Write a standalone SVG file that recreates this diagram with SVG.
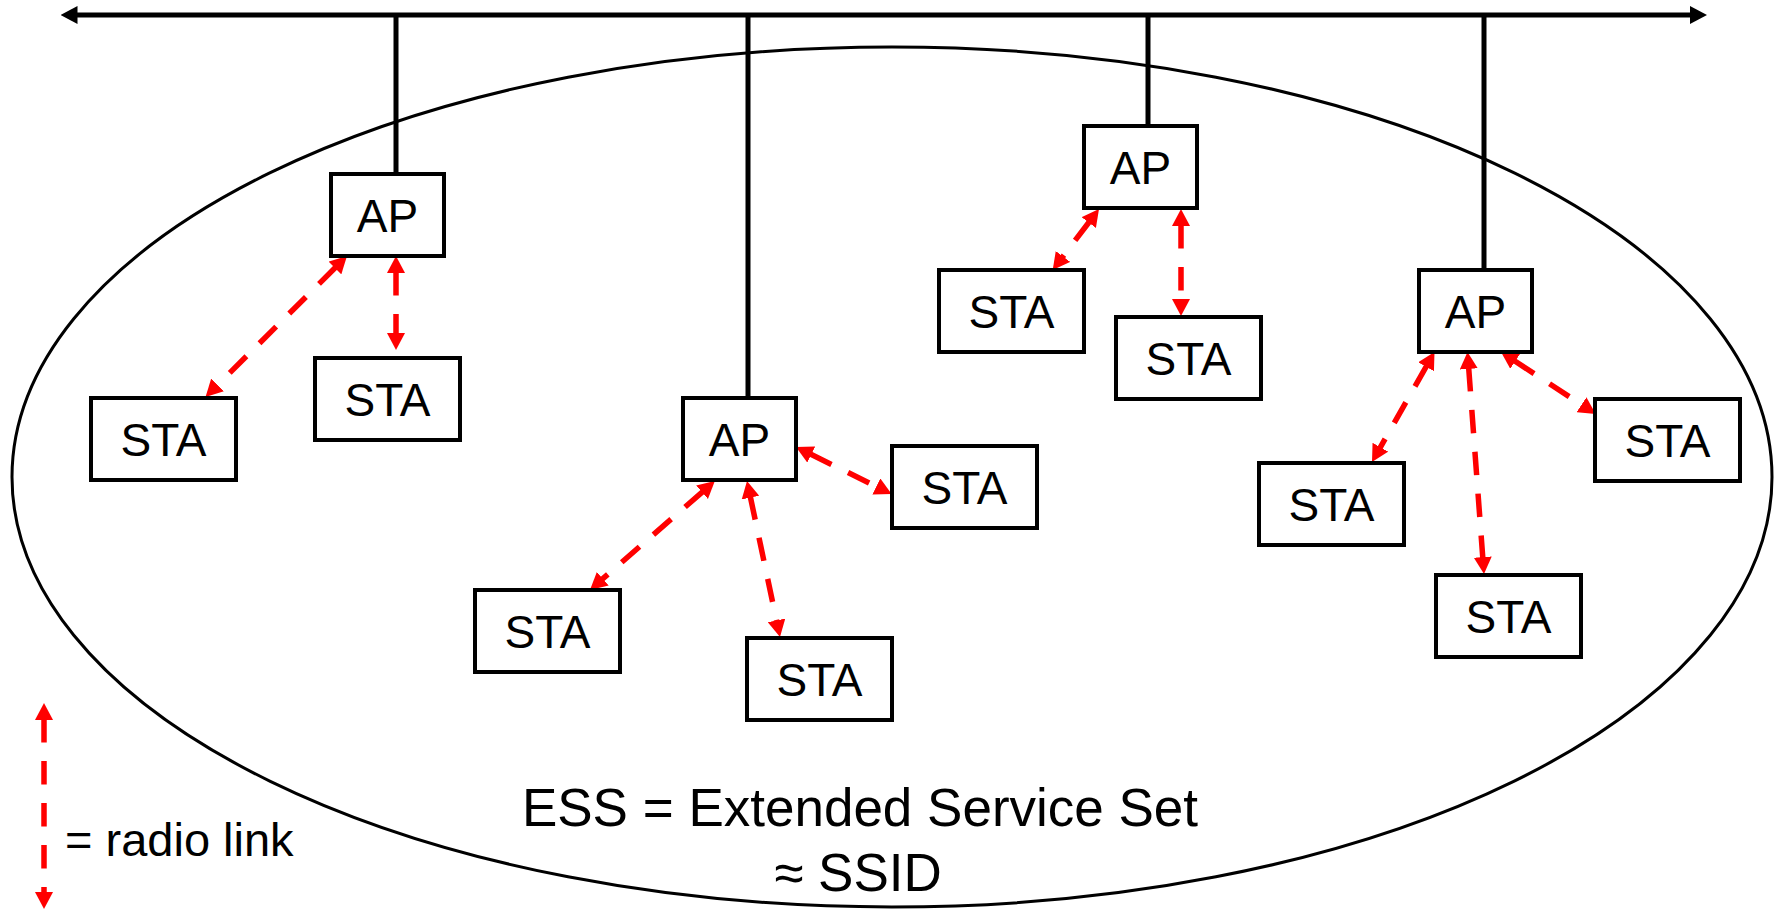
<svg xmlns="http://www.w3.org/2000/svg" width="1781" height="909" viewBox="0 0 1781 909">
  <style>
    .box { fill: #ffffff; stroke: #000000; stroke-width: 4; }
    .lbl { font-family: "Liberation Sans", Arial, sans-serif; font-size: 46px; fill: #000000; text-anchor: middle; }
    .wire { stroke: #000000; stroke-width: 5; fill: none; }
    .radio { stroke: #ff0000; stroke-width: 5.5; fill: none; stroke-dasharray: 23.5 18.5; marker-start: url(#redHead); marker-end: url(#redHead); }
    .caption { font-family: "Liberation Sans", Arial, sans-serif; fill: #000000; }
  </style>
  <defs>
    <!-- red arrowhead: the link line stops at the head's base -->
    <marker id="redHead" markerUnits="userSpaceOnUse" markerWidth="17" markerHeight="18" refX="1" refY="9" orient="auto-start-reverse" viewBox="0 0 17 18">
      <path d="M0,0 L17,9 L0,18 z" fill="#ff0000"/>
    </marker>
    <marker id="blackHead" markerUnits="userSpaceOnUse" markerWidth="17" markerHeight="18" refX="5" refY="9" orient="auto-start-reverse" viewBox="0 0 17 18">
      <path d="M0,0 L17,9 L0,18 z" fill="#000000"/>
    </marker>
  </defs>

  <rect width="1781" height="909" fill="#ffffff"/>

  <!-- extended service set boundary -->
  <ellipse id="ess-area" cx="892" cy="477" rx="880" ry="430" fill="none" stroke="#000000" stroke-width="3"/>

  <g id="connectors">
    <!-- distribution system bus and AP uplinks -->
    <line class="wire" x1="72.5" y1="15" x2="1695" y2="15" marker-start="url(#blackHead)" marker-end="url(#blackHead)"/>
    <line class="wire" x1="396" y1="15" x2="396" y2="174"/>
    <line class="wire" x1="748" y1="15" x2="748" y2="398"/>
    <line class="wire" x1="1148" y1="15" x2="1148" y2="126"/>
    <line class="wire" x1="1484" y1="15" x2="1484" y2="270"/>

    <!-- radio links -->
    <line class="radio" x1="335.66" y1="267.3" x2="216.84" y2="385.7"/>
    <line class="radio" x1="396" y1="272" x2="396" y2="334"/>
    <line class="radio" x1="1089.34" y1="221.74" x2="1062.36" y2="257.26"/>
    <line class="radio" x1="1181" y1="225" x2="1181" y2="300"/>
    <line class="radio" x1="810.36" y1="454.06" x2="877.24" y2="486.94"/>
    <line class="radio" x1="750.31" y1="496.65" x2="776.69" y2="621.35"/>
    <line class="radio" x1="702.79" y1="491.57" x2="602.01" y2="579.43"/>
    <line class="radio" x1="1426.6" y1="365.91" x2="1379.9" y2="448.09"/>
    <line class="radio" x1="1468.69" y1="367.96" x2="1482.81" y2="558.04"/>
    <line class="radio" x1="1514.39" y1="360.76" x2="1582.31" y2="405.24"/>
  </g>

  <!-- access points -->
  <g id="ap1"><rect class="box" x="331" y="174" width="113" height="82"/><text class="lbl" x="387.5" y="232">AP</text></g>
  <g id="ap2"><rect class="box" x="683" y="398" width="113" height="82"/><text class="lbl" x="739.5" y="456">AP</text></g>
  <g id="ap3"><rect class="box" x="1084" y="126" width="113" height="82"/><text class="lbl" x="1140.5" y="184">AP</text></g>
  <g id="ap4"><rect class="box" x="1419" y="270" width="113" height="82"/><text class="lbl" x="1475.5" y="328">AP</text></g>

  <!-- stations -->
  <g id="sta1"><rect class="box" x="91" y="398" width="145" height="82"/><text class="lbl" x="163.5" y="456">STA</text></g>
  <g id="sta2"><rect class="box" x="315" y="358" width="145" height="82"/><text class="lbl" x="387.5" y="416">STA</text></g>
  <g id="sta3"><rect class="box" x="939" y="270" width="145" height="82"/><text class="lbl" x="1011.5" y="328">STA</text></g>
  <g id="sta4"><rect class="box" x="1116" y="317" width="145" height="82"/><text class="lbl" x="1188.5" y="375">STA</text></g>
  <g id="sta5"><rect class="box" x="892" y="446" width="145" height="82"/><text class="lbl" x="964.5" y="504">STA</text></g>
  <g id="sta6"><rect class="box" x="475" y="590" width="145" height="82"/><text class="lbl" x="547.5" y="648">STA</text></g>
  <g id="sta7"><rect class="box" x="747" y="638" width="145" height="82"/><text class="lbl" x="819.5" y="696">STA</text></g>
  <g id="sta8"><rect class="box" x="1259" y="463" width="145" height="82"/><text class="lbl" x="1331.5" y="521">STA</text></g>
  <g id="sta9"><rect class="box" x="1436" y="575" width="145" height="82"/><text class="lbl" x="1508.5" y="633">STA</text></g>
  <g id="sta10"><rect class="box" x="1595" y="399" width="145" height="82"/><text class="lbl" x="1667.5" y="457">STA</text></g>

  <!-- caption -->
  <g id="caption">
    <text class="caption" x="860" y="826" font-size="53" text-anchor="middle">ESS = Extended Service Set</text>
    <text class="caption" x="858" y="891" font-size="53" text-anchor="middle">≈ SSID</text>
  </g>

  <!-- legend -->
  <g id="legend">
    <line class="radio" x1="44" y1="719" x2="44" y2="893"/>
    <text class="caption" x="65" y="856" font-size="47">= radio link</text>
  </g>
</svg>
